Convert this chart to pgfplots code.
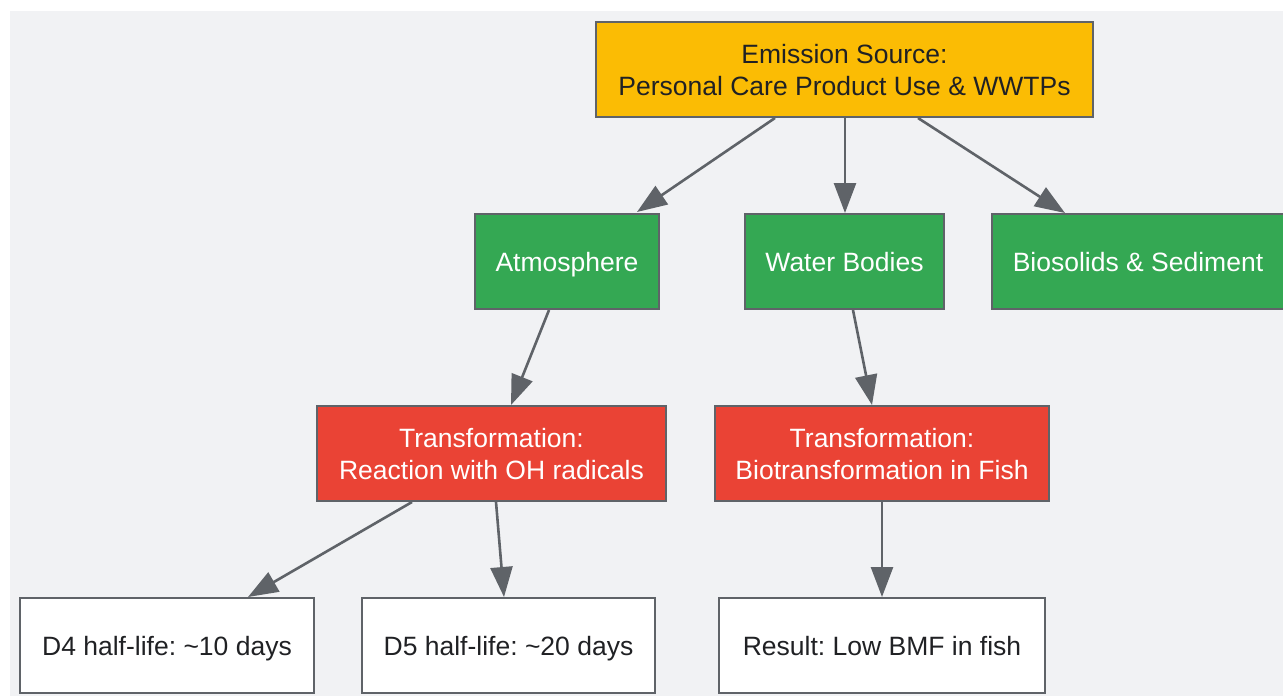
\documentclass[border=0pt]{standalone}
\usepackage{pgfplots}
\pgfplotsset{compat=1.18}
\usepackage{fontspec}
\setmainfont{Liberation Sans}
\usetikzlibrary{arrows.meta}
\definecolor{bggray}{HTML}{F1F2F4}
\definecolor{edgegray}{HTML}{5F6368}
\definecolor{gyellow}{HTML}{FBBC04}
\definecolor{ggreen}{HTML}{34A853}
\definecolor{gred}{HTML}{EA4335}
\definecolor{darktext}{HTML}{202124}
\frenchspacing
\begin{document}
\begin{tikzpicture}
\begin{axis}[
  name=ax,
  width=1283pt, height=696pt, scale only axis,
  xmin=0, xmax=1283, ymin=0, ymax=696,
  y dir=reverse, hide axis, clip=true,
  every axis plot/.append style={mark=none},
]
% background panel
\addplot[fill=bggray, draw=none] coordinates {(10,11) (1283,11) (1283,696) (10,696)} -- cycle;

% boxes
\tikzset{box/.style={draw=edgegray, line width=2pt}}
\addplot[box, fill=gyellow] coordinates {(596,22) (1093,22) (1093,117) (596,117)} -- cycle;
\addplot[box, fill=ggreen] coordinates {(475,214) (659,214) (659,309) (475,309)} -- cycle;
\addplot[box, fill=ggreen] coordinates {(745,214) (944,214) (944,309) (745,309)} -- cycle;
\addplot[box, fill=ggreen] coordinates {(992,214) (1286,214) (1286,309) (992,309)} -- cycle;
\addplot[box, fill=gred] coordinates {(317,406) (666,406) (666,501) (317,501)} -- cycle;
\addplot[box, fill=gred] coordinates {(715,406) (1049,406) (1049,501) (715,501)} -- cycle;
\addplot[box, fill=white] coordinates {(20,598) (314,598) (314,693) (20,693)} -- cycle;
\addplot[box, fill=white] coordinates {(362,598) (655,598) (655,693) (362,693)} -- cycle;
\addplot[box, fill=white] coordinates {(719,598) (1045,598) (1045,693) (719,693)} -- cycle;

% arrows
\tikzset{arr/.style={draw=edgegray, line width=2.6pt, -{Triangle[length=30pt,width=22pt]}}}
\addplot[arr] coordinates {(775,118) (637,212)};
\addplot[arr] coordinates {(845,118) (845,213)};
\addplot[arr] coordinates {(918,118) (1065,213)};
\addplot[arr] coordinates {(549,310) (511,405)};
\addplot[arr] coordinates {(853,310) (872,405)};
\addplot[arr] coordinates {(412,502) (248,597)};
\addplot[arr] coordinates {(496,502) (504,597)};
\addplot[arr] coordinates {(882,502) (882,597)};

% labels (anchored at baselines)
\tikzset{lbl/.style={font=\fontsize{26.5}{32}\selectfont, inner sep=0pt, anchor=base}}
\node[lbl, text=darktext] at (844.5,63) {Emission Source:};
\node[lbl, text=darktext] at (844.5,95) {Personal Care Product Use \& WWTPs};
\node[lbl, text=white] at (567,271) {Atmosphere};
\node[lbl, text=white] at (844.5,271) {Water Bodies};
\node[lbl, text=white] at (1138,271) {Biosolids \& Sediment};
\node[lbl, text=white] at (491.5,447) {Transformation:};
\node[lbl, text=white] at (491.5,479) {Reaction with OH radicals};
\node[lbl, text=white] at (882,447) {Transformation:};
\node[lbl, text=white] at (882,479) {Biotransformation in Fish};
\node[lbl, text=darktext] at (167,655) {D4 half-life: \textasciitilde 10 days};
\node[lbl, text=darktext] at (508.5,655) {D5 half-life: \textasciitilde 20 days};
\node[lbl, text=darktext] at (882,655) {Result: Low BMF in fish};
\end{axis}
\pgfresetboundingbox
\path[use as bounding box] (ax.south west) rectangle (ax.north east);
\end{tikzpicture}
\end{document}
